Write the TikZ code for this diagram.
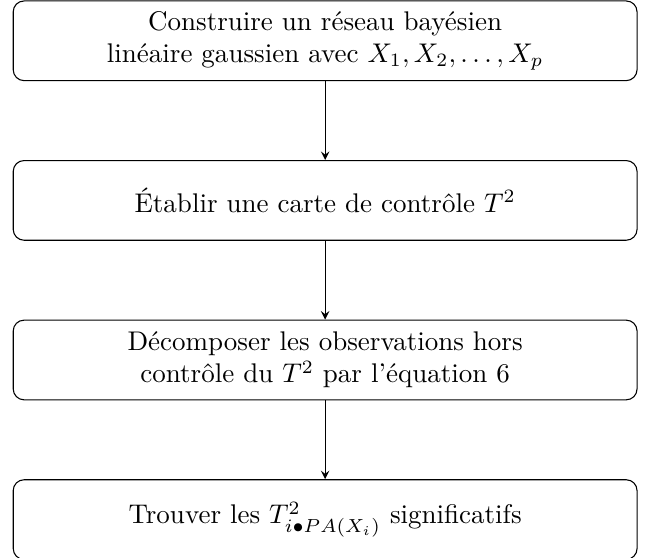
\documentclass[tikz,border=0pt]{standalone}
\usetikzlibrary{positioning}

\begin{document}
\begin{tikzpicture}[node distance=29.2pt,
  every node/.style = {shape=rectangle, rounded corners,
    draw, align=center,
    minimum width=231pt, minimum height=29.5pt}]
  \useasboundingbox (-120.4pt,15.1pt) rectangle (120.3pt,-191.2pt);
  \node (construire) at (0,0) {Construire un réseau bayésien\\
    linéaire gaussien avec $X_1, X_2, \ldots, X_p$};
  \node (carte) [below=of construire] {Établir une carte de contrôle $T^2$};
  \node (decomp) [below=of carte] {Décomposer les observations hors\\
    contrôle du $T^2$ par l'équation 6};
  \node (trouver) [below=of decomp]
    {Trouver les $T^2_{i\bullet PA(X_i)}$ significatifs};
  \draw[-stealth] (construire) -- (carte);
  \draw[-stealth] (carte) -- (decomp);
  \draw[-stealth] (decomp) -- (trouver);
\end{tikzpicture}
\end{document}
